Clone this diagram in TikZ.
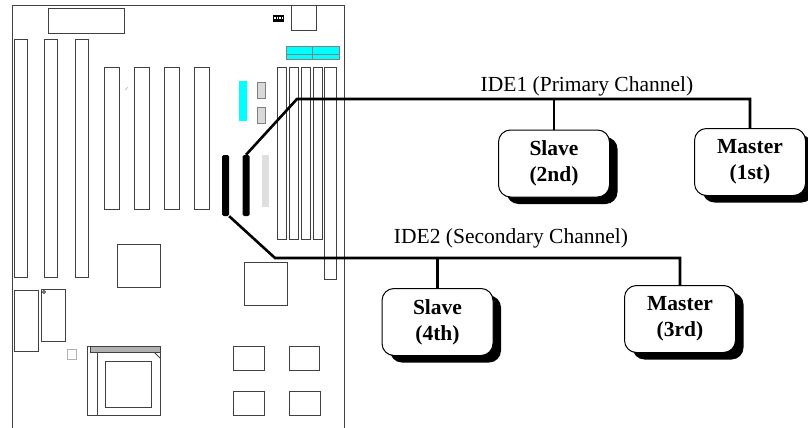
\documentclass[tikz,border=0pt]{standalone}
\usepackage{fontspec}
\setmainfont{Liberation Serif}
\usetikzlibrary{positioning}
\usetikzlibrary{shadows}
\definecolor{aqua}{RGB}{0,255,255}
\begin{document}
\begin{tikzpicture}[x=1pt,y=-1pt,
    part/.style={draw=black!75, line width=0.8pt},
    header/.style={fill=black, rounded corners=1.5pt, minimum width=7pt, minimum height=61pt, inner sep=0pt},
    cable/.style={line width=2.6pt},
    drive/.style={draw, line width=1pt, rounded corners=12pt, fill=white, minimum width=111pt, minimum height=67pt, align=center, font=\fontsize{21.5}{26}\selectfont\bfseries, drop shadow={shadow xshift=8pt, shadow yshift=-7pt, opacity=1, fill=black}},
    chan/.style={font=\fontsize{21.5}{26}\selectfont, anchor=base, inner sep=0pt}]
		\useasboundingbox (0,0) rectangle (808,428);
		\draw[part] (12,428) -- (12,5) -- (344,5) -- (344,428);
		\draw[part] (48,8) rectangle (124,33);
		\draw[part] (291,5) rectangle (316,30);
		\fill[black] (273,15) rectangle (284,22);
		\foreach \x in {275,277.5,280,282.5}
			\fill[white] (\x-0.6,17.5) rectangle ++(1.2,1.5);
		\draw[gray, fill=aqua] (286,46) rectangle (339,59);
		\draw[gray] (312,46) -- (312,59) (286,54) -- (339,54);
		\foreach \x in {14,44,75}
			\draw[part] (\x,39) rectangle ++(13,238);
		\foreach \x in {104,134,164,194}
			\draw[part] (\x,67) rectangle ++(15.5,142);
		\foreach \x in {277,289,301,313}
			\draw[part] (\x,67) rectangle ++(9,172);
		\draw[part] (324,67) rectangle (336,279);
		\draw[gray!60] (125,90) -- (128,87);
		\fill[aqua] (239,81) rectangle (247,121);
		\draw[gray, fill=gray!30] (257,82) rectangle (265,98);
		\draw[gray, fill=gray!30] (257,107) rectangle (265,123);
		\fill[gray!25] (262,155) rectangle (269,207);
		\draw[part] (117,244) rectangle (160,287);
		\draw[part] (244,262) rectangle (287,305);
		\draw[part] (14,290) rectangle (38,351);
		\draw[part] (41,289) rectangle (65,341);
		\draw[part] (44,292) circle (1.5);
		\draw[gray!60] (67,349) rectangle (76,359);
		\draw[part] (87,346) rectangle (160,415);
		\draw[part, fill=gray!60] (90,346) rectangle (160,352);
		\draw[part] (97,352) -- (97,415);
		\draw[part] (105,361) rectangle (151,407);
		\draw[part] (154,352) -- (160,358);
		\draw[part] (233,346) rectangle (264,370);
		\draw[part] (289,346) rectangle (319,370);
		\draw[part] (233,391) rectangle (264,415);
		\draw[part] (289,391) rectangle (320,415);
		\node (hdr2) [header] at (225.5,185.5) {};
		\node (hdr1) [header] at (246,185.5) {};
		\coordinate (k1) at (297,99);
		\coordinate (k2) at (275,258);
		\node (s2) [drive] at (554,163.5) {Slave\\(2nd)};
		\node (m1) [drive] at (750,162) {Master\\(1st)};
		\node (s4) [drive] at (437.5,322) {Slave\\(4th)};
		\node (m3) [drive] at (680,319) {Master\\(3rd)};
		\node (t1) [chan] at (587,92) {IDE1 (Primary Channel)};
		\node (t2) [chan] at (511,243) {IDE2 (Secondary Channel)};
		\draw[cable] (hdr1.north) -- (k1) -| (m1.north);
		\draw[cable] (s2.north) -- (s2.north |- k1);
		\draw[cable] (hdr2.south east) -- (k2) -| (m3.north);
		\draw[cable] (s4.north) -- (s4.north |- k2);
\end{tikzpicture}
\end{document}
